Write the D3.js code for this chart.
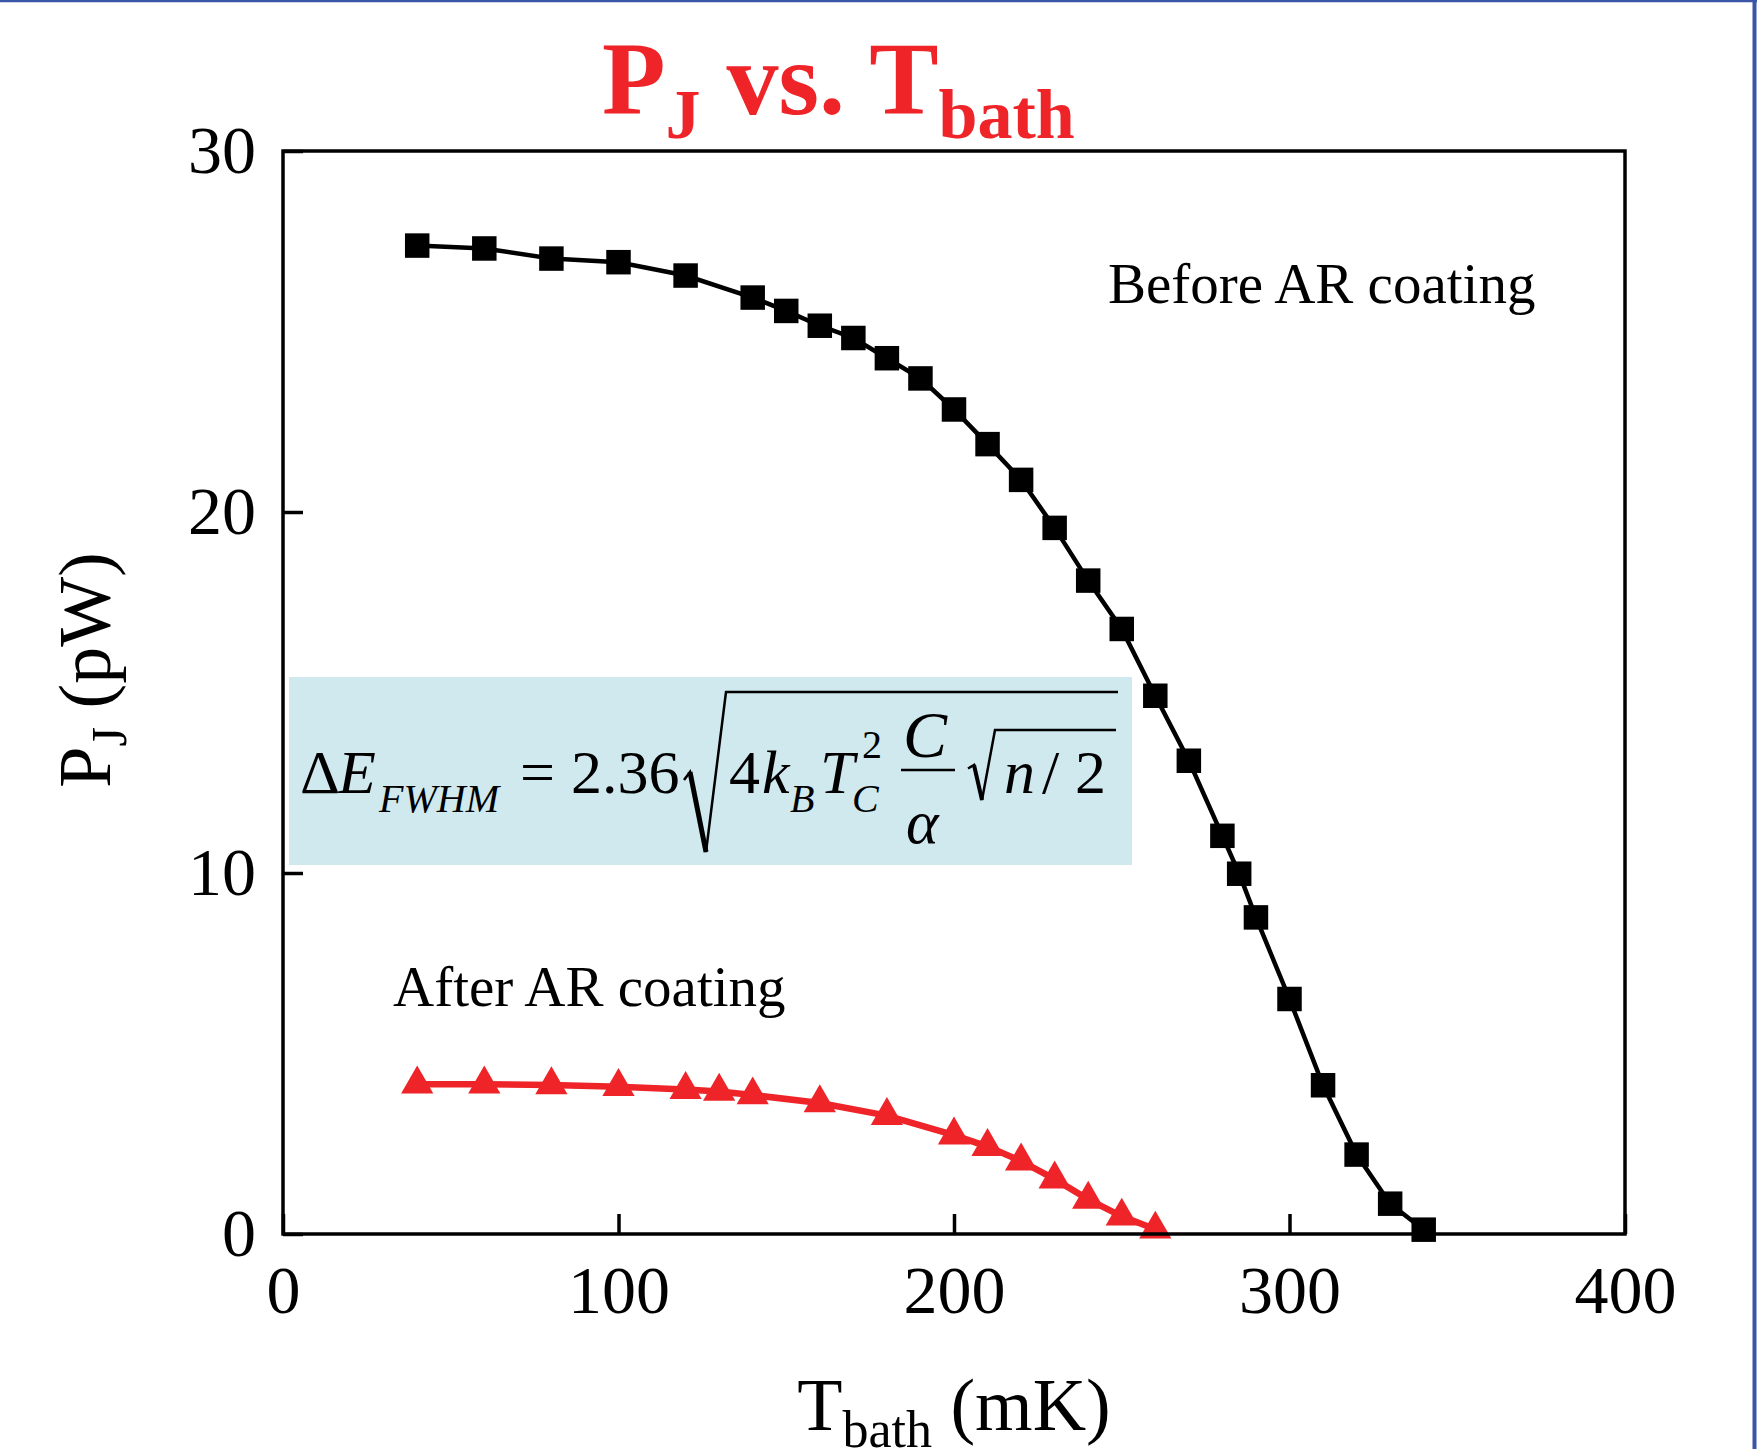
<!DOCTYPE html>
<html>
<head>
<meta charset="utf-8">
<script src="https://cdn.jsdelivr.net/npm/d3@7"></script>
<style>
  html, body { margin: 0; padding: 0; background: #fff; }
  svg { display: block; }
  text { font-family: 'Liberation Serif', 'Times New Roman', serif; }
</style>
</head>
<body>
<svg id="chart" width="1757" height="1449"></svg>
<script>
// Data
const tempBefore = [40, 60, 80, 100, 120, 140, 150, 160, 170, 180, 190, 200, 210, 220, 230, 240, 250, 260, 270, 280, 285, 290, 300, 310, 320, 330, 340]
const pjBefore = [27.38, 27.3, 27.02, 26.92, 26.55, 25.94, 25.57, 25.16, 24.82, 24.26, 23.7, 22.84, 21.88, 20.89, 19.56, 18.1, 16.76, 14.91, 13.11, 11.03, 9.98, 8.77, 6.51, 4.12, 2.2, 0.84, 0.12]

const tempAfter = [40, 60, 80, 100, 120, 130, 140, 160, 180, 200, 210, 220, 230, 240, 250, 260]
const pjAfter = [4.15, 4.15, 4.13, 4.08, 4.0, 3.95, 3.85, 3.63, 3.28, 2.74, 2.42, 2.02, 1.52, 0.96, 0.49, 0.13]

const xTicks = [0, 100, 200, 300, 400]
const yTicks = [0, 10, 20, 30]

const red = '#ee2428'

const svg = d3.select('#chart')
const width = +svg.attr('width')
const height = +svg.attr('height')

// page border (blue lines top and right)
svg.append('line').attr('x1', 0).attr('x2', width).attr('y1', 1).attr('y2', 1)
  .attr('stroke', '#3b55a8').attr('stroke-width', 2.5)
svg.append('line').attr('x1', width - 2.5).attr('x2', width - 2.5).attr('y1', 0).attr('y2', height)
  .attr('stroke', '#3b55a8').attr('stroke-width', 4)

const plot = {left: 283, right: 1625, top: 151, bottom: 1234}

const x = d3.scaleLinear().domain([0, 400]).range([plot.left, plot.right])
const y = d3.scaleLinear().domain([0, 30]).range([plot.bottom, plot.top])

// formula box sits behind the data
const fg = svg.append('g')
fg.append('rect').attr('x', 289).attr('y', 677).attr('width', 843).attr('height', 188)
  .attr('fill', '#cfe9ef')

const fs = 62
const sub = 40
const pieces = [
  {t: 'Δ', x: 300, y: 793, s: fs, i: false},
  {t: 'E', x: 338, y: 793, s: fs, i: true},
  {t: 'FWHM', x: 379, y: 812, s: sub, i: true},
  {t: '=', x: 520, y: 793, s: fs, i: false},
  {t: '2.36', x: 571, y: 793, s: fs, i: false},
  {t: '4', x: 729, y: 793, s: fs, i: false},
  {t: 'k', x: 762, y: 793, s: fs, i: true},
  {t: 'B', x: 790, y: 812, s: sub, i: true},
  {t: 'T', x: 820, y: 793, s: fs, i: true},
  {t: 'C', x: 852, y: 812, s: sub, i: true},
  {t: '2', x: 862, y: 758, s: sub, i: false},
  {t: 'C', x: 903, y: 757, s: 66, i: true},
  {t: 'α', x: 906, y: 843, s: fs, i: true},
  {t: 'n', x: 1004, y: 793, s: fs, i: true},
  {t: '/', x: 1042, y: 793, s: fs, i: false},
  {t: '2', x: 1075, y: 793, s: fs, i: false}
]
fg.selectAll('text.f').data(pieces).join('text')
  .attr('class', 'f')
  .attr('x', d => d.x).attr('y', d => d.y)
  .attr('font-size', d => d.s)
  .attr('font-style', d => d.i ? 'italic' : 'normal')
  .text(d => d.t)

// fraction bar and radicals
fg.append('line').attr('x1', 901).attr('x2', 955).attr('y1', 770).attr('y2', 770)
  .attr('stroke', '#000').attr('stroke-width', 2.5)
const radical = (x0, yb, yt, x1, big) => {
  const h = yb - yt
  const p = d3.path()
  p.moveTo(x0, yb - h * 0.45)
  p.lineTo(x0 + 6, yb - h * 0.5)
  p.lineTo(x0 + (big ? 22 : 14), yb)
  p.lineTo(x0 + (big ? 42 : 27), yt)
  p.lineTo(x1, yt)
  fg.append('path').attr('d', p.toString()).attr('fill', 'none')
    .attr('stroke', '#000').attr('stroke-width', 2.5).attr('stroke-linejoin', 'miter')
  // heavier down stroke
  fg.append('line').attr('x1', x0 + 6).attr('y1', yb - h * 0.5)
    .attr('x2', x0 + (big ? 22 : 14)).attr('y2', yb)
    .attr('stroke', '#000').attr('stroke-width', big ? 5 : 4)
}
radical(684, 852, 692, 1118, true)
radical(968, 800, 730, 1116, false)

// series lines
const lineBefore = d3.line().x((d, i) => x(tempBefore[i])).y(d => y(d))
const lineAfter = d3.line().x((d, i) => x(tempAfter[i])).y(d => y(d))

svg.append('path').datum(pjBefore).attr('d', lineBefore)
  .attr('fill', 'none').attr('stroke', '#000').attr('stroke-width', 4.5)
svg.append('path').datum(pjAfter).attr('d', lineAfter)
  .attr('fill', 'none').attr('stroke', red).attr('stroke-width', 6.5)

svg.append('g').selectAll('path').data(pjBefore).join('path')
  .attr('transform', (d, i) => `translate(${x(tempBefore[i])},${y(d)})`)
  .attr('d', d3.symbol(d3.symbolSquare, 600))
  .attr('fill', '#000')

svg.append('g').selectAll('path').data(pjAfter).join('path')
  .attr('transform', (d, i) => `translate(${x(tempAfter[i])},${y(d)})`)
  .attr('d', d3.symbol(d3.symbolTriangle, 450))
  .attr('fill', red)

// axes, ticks pointing inward
const xAxis = svg.append('g').attr('transform', `translate(0,${plot.bottom})`)
  .call(d3.axisBottom(x).tickValues(xTicks).tickSizeInner(-20).tickSizeOuter(0).tickPadding(31))
const yAxis = svg.append('g').attr('transform', `translate(${plot.left},0)`)
  .call(d3.axisLeft(y).tickValues(yTicks).tickSizeInner(-20).tickSizeOuter(0).tickPadding(27))
;[xAxis, yAxis].forEach(a => {
  a.select('.domain').remove()
  a.selectAll('.tick line').attr('stroke', '#000').attr('stroke-width', 3.5)
  a.selectAll('.tick text').attr('fill', '#000').attr('font-size', 68)
    .attr('font-family', "'Liberation Serif', 'Times New Roman', serif")
})

// frame
svg.append('rect').attr('x', plot.left).attr('y', plot.top)
  .attr('width', plot.right - plot.left).attr('height', plot.bottom - plot.top)
  .attr('fill', 'none').attr('stroke', '#000').attr('stroke-width', 3.5)

// title
const title = svg.append('text').attr('x', 602).attr('y', 114)
  .attr('fill', red).attr('font-weight', 'bold').attr('font-size', 104)
title.append('tspan').text('P')
title.append('tspan').attr('font-size', 70).attr('dy', 24).text('J')
title.append('tspan').attr('dy', -24).text(' vs. T')
title.append('tspan').attr('font-size', 70).attr('dy', 24).text('bath')

// axis titles
const xl = svg.append('text').attr('x', 954).attr('y', 1430)
  .attr('text-anchor', 'middle').attr('font-size', 74)
xl.append('tspan').text('T')
xl.append('tspan').attr('font-size', 52).attr('dy', 17).text('bath')
xl.append('tspan').attr('dy', -17).text(' (mK)')

const yl = svg.append('text').attr('transform', 'translate(110,670) rotate(-90)')
  .attr('text-anchor', 'middle').attr('font-size', 74)
yl.append('tspan').text('P')
yl.append('tspan').attr('font-size', 50).attr('dy', 16).text('J')
yl.append('tspan').attr('dy', -16).text(' (pW)')

// series labels
svg.append('text').attr('x', 1108).attr('y', 303).attr('font-size', 57).text('Before AR coating')
svg.append('text').attr('x', 393).attr('y', 1006).attr('font-size', 57).text('After AR coating')
</script>
</body>
</html>
